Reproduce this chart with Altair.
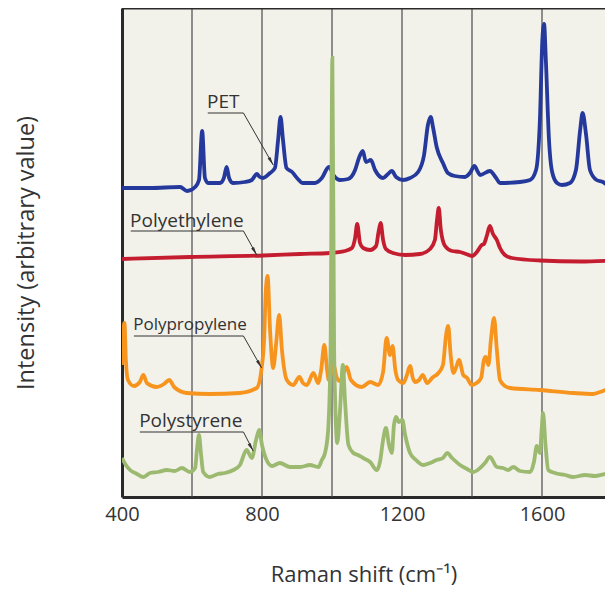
import altair as alt
import pandas as pd

# ---- spectra (wavenumber cm-1, intensity in arbitrary units) ----
pet_x = [400, 480, 566, 586, 609, 620, 629, 637, 646, 680, 691, 699, 706, 717, 751, 771, 785, 794,
         803, 823, 837, 846, 853, 860, 870, 886, 900, 917, 951, 971, 991, 1006, 1023, 1046, 1066,
         1077, 1088, 1097, 1111, 1123, 1146, 1160, 1171, 1183, 1203, 1223, 1246, 1263, 1274, 1282,
         1289, 1299, 1317, 1331, 1351, 1380, 1394, 1407, 1417, 1423, 1451, 1469, 1480, 1537, 1566,
         1583, 1594, 1601, 1606, 1611, 1620, 1629, 1643, 1657, 1680, 1697, 1709, 1716, 1726, 1737,
         1756, 1774, 1786, 1800]
pet_y = [309, 309, 310, 306, 310, 317, 366, 319, 314, 314, 319, 330, 319, 314, 315, 317, 323, 320,
         319, 324, 329, 357, 380, 357, 329, 325, 319, 314, 314, 319, 330, 321, 317, 318, 327,
         339, 346, 335, 337, 327, 319, 323, 326, 320, 317, 319, 325, 342, 372, 380,
         369, 350, 334, 324, 321, 320, 324, 331, 325, 322, 326, 319, 314, 315, 317,
         327, 377, 457, 473, 437, 357, 325, 314, 312, 314, 327, 367, 384, 362, 327,
         317, 315, 312, 309]

pe_x = [400, 594, 803, 909, 994, 1037, 1057, 1066, 1072, 1080, 1089, 1109, 1126, 1133, 1139, 1146,
        1154, 1174, 1209, 1251, 1280, 1294, 1300, 1305, 1311, 1323, 1343, 1366, 1383, 1400, 1414,
        1428, 1434, 1443, 1451, 1460, 1471, 1480, 1494, 1514, 1594, 1709, 1800]
pe_y = [238, 240, 241.5, 243, 244, 246, 249, 259, 273, 254, 249, 247, 251, 265, 274, 257,
        248, 244, 242, 243, 248, 257, 277, 289, 267, 251, 246, 245, 243, 241, 245,
        252, 253, 262, 271, 263, 257, 249, 242, 239, 236.5, 235.5, 236.5]

pp_x = [400, 404, 407, 411, 417, 434, 451, 461, 471, 499, 520, 535, 549, 585, 651, 737, 785, 799,
        806, 811, 816, 823, 832, 840, 849, 857, 871, 889, 907, 917, 928, 947, 960, 969, 978, 986,
        991, 1004, 1014, 1023, 1042, 1054, 1085, 1109, 1132, 1146, 1156, 1166, 1173, 1181, 1189,
        1204, 1214, 1223, 1231, 1237, 1249, 1259, 1272, 1286, 1304, 1317, 1326, 1332, 1339, 1347,
        1354, 1363, 1375, 1386, 1399, 1413, 1426, 1434, 1439, 1447, 1454, 1463, 1471, 1480, 1494,
        1509, 1594, 1689, 1746, 1766, 1785, 1800]
pp_y = [132, 167, 174, 137, 117, 111, 115, 122, 114, 110, 113, 117, 110, 104, 103, 104, 109, 129,
        157, 207, 221, 167, 129, 152, 182, 147, 117, 112, 120, 114, 112, 124, 114, 127, 152, 127,
        117, 132, 119, 116, 130, 117, 110, 115, 112, 125, 159, 142, 151, 127, 117,
        114, 122, 131, 119, 115, 117, 122, 114, 119, 124, 132, 162, 171, 142, 124,
        129, 137, 122, 119, 112, 114, 119, 137, 140, 132, 157, 179, 147, 117, 111,
        109, 107, 104, 103, 105, 107, 105]

ps_x = [400, 411, 423, 443, 461, 480, 503, 528, 551, 571, 594, 609, 614, 620, 626, 632, 651, 674,
        694, 718, 737, 756, 771, 783, 792, 800, 813, 829, 851, 880, 909, 937, 961, 971, 980, 989,
        996, 1001, 1006, 1009, 1015, 1023, 1031, 1037, 1047, 1061, 1074, 1089, 1109, 1128, 1137,
        1146, 1154, 1163, 1171, 1177, 1183, 1191, 1201, 1209, 1223, 1240, 1261, 1280, 1299, 1317,
        1329, 1343, 1366, 1386, 1404, 1423, 1437, 1451, 1471, 1489, 1503, 1518, 1537, 1566, 1577,
        1585, 1594, 1599, 1603, 1610, 1618, 1637, 1666, 1689, 1723, 1751, 1780, 1800]
ps_y = [39, 32, 27, 23, 20, 24, 25, 27, 26, 29, 25, 29, 47, 62, 42, 25, 20, 23,
        24, 27, 32, 47, 39, 57, 67, 52, 37, 31, 34, 30, 30, 32, 30, 37, 44, 67,
        150, 439, 150, 97, 54, 87, 132, 97, 52, 44, 42, 39, 35, 27, 35,
        57, 69, 52, 44, 72, 80, 75, 77, 62, 44, 37, 32, 34, 37, 39,
        44, 39, 32, 28, 25, 29, 34, 40, 30, 29, 27, 30, 26, 25, 35,
        51, 44, 67, 84, 52, 27, 24, 22, 20, 22, 21, 23, 24]

polymers = ["PET", "Polyethylene", "Polypropylene", "Polystyrene"]
colors = ["#24399b", "#c41d30", "#f7941e", "#9bba70"]

grid_x = [600, 800, 1000, 1200, 1400, 1600]
tick_values = [400, 800, 1200, 1600]

# ---- annotation labels with leader arrows ----
label_text = ["PET", "Polyethylene", "Polypropylene", "Polystyrene"]
label_size = [19, 19, 17, 19]
label_x = [643, 423, 432, 449]
label_y = [389, 270, 167, 70]
under_y = [384, 266, 161, 65]
under_end_x = [747, 747, 747, 747]
arrow_x = [832, 785, 799, 775]
arrow_y = [332, 242, 129, 46]

series = {"PET": (pet_x, pet_y), "Polyethylene": (pe_x, pe_y),
          "Polypropylene": (pp_x, pp_y), "Polystyrene": (ps_x, ps_y)}

lead_rows = []
for i, t in enumerate(label_text):
    lead_rows.append({"label": t, "x": label_x[i] + 2, "y": under_y[i]})
    lead_rows.append({"label": t, "x": under_end_x[i], "y": under_y[i]})
    lead_rows.append({"label": t, "x": arrow_x[i], "y": arrow_y[i]})
leaders = pd.DataFrame(lead_rows)
labels = pd.DataFrame({"label": label_text, "x": label_x, "y": label_y, "size": label_size,
                       "ax": arrow_x, "ay": arrow_y})

FONT = "Open Sans"
xscale = alt.Scale(domain=[400, 1780], nice=False, zero=False)
yscale = alt.Scale(domain=[0, 489], nice=False, zero=False)

x_enc = alt.X("wavenumber:Q", scale=xscale,
              axis=alt.Axis(values=tick_values, format="d", title="Raman shift (cm⁻¹)",
                            grid=False, ticks=False, labelFlush=False, labelPadding=7,
                            labelFontSize=20, labelFont=FONT, labelColor="#333",
                            titleFontSize=22, titleFont=FONT, titleColor="#333",
                            titleFontWeight="normal", titlePadding=40,
                            domainColor="#2a2a2a", domainWidth=3))
y_enc = alt.Y("intensity:Q", scale=yscale,
              axis=alt.Axis(labels=False, ticks=False, grid=False,
                            title="Intensity (arbitrary value)",
                            titleFontSize=23.5, titleFont=FONT, titleColor="#333",
                            titleFontWeight="normal", titlePadding=84,
                            domainColor="#2a2a2a", domainWidth=3))

grid = alt.Chart(pd.DataFrame({"g": grid_x})).mark_rule(color="#4a4a4a", strokeWidth=1.2).encode(
    x=alt.X("g:Q", scale=xscale))

top_border = alt.Chart(pd.DataFrame({"g": [0]})).mark_rule(color="#2a2a2a", strokeWidth=3).encode(
    y=alt.value(0))

# draw each polymer in its own layer so Polystyrene ends up on top
layers = []
for name in polymers:
    xs, ys = series[name]
    df = pd.DataFrame({"wavenumber": xs, "intensity": ys})
    layers.append(
        alt.Chart(df).mark_line(
            strokeWidth=3.8, interpolate="monotone", clip=True,
            color=colors[polymers.index(name)]).encode(x=x_enc, y=y_enc)
    )

lead = alt.Chart(leaders).mark_line(color="#333", strokeWidth=1).encode(
    x=alt.X("x:Q", scale=xscale), y=alt.Y("y:Q", scale=yscale), detail="label:N")

heads = alt.Chart(labels).mark_point(
    shape="M0,0 L-0.32,1.6 L0.32,1.6 Z", filled=True, color="#333", size=110, opacity=1,
    angle=150).encode(
    x=alt.X("ax:Q", scale=xscale), y=alt.Y("ay:Q", scale=yscale))

texts = alt.Chart(labels).mark_text(
    align="left", baseline="alphabetic", font=FONT, color="#333").encode(
    x=alt.X("x:Q", scale=xscale), y=alt.Y("y:Q", scale=yscale), text="label:N",
    size=alt.Size("size:Q", scale=None))

chart = alt.layer(grid, *layers, lead, heads, texts, top_border).properties(
    width=483, height=489,
    autosize=alt.AutoSizeParams(type="none"),
    padding={"left": 114, "top": 0, "right": 0, "bottom": 89},
    background="white",
).configure_view(fill="#f2f1ea", stroke="#8a8a8a", strokeWidth=1)

chart.save("out.html", embed_options={"renderer": "svg", "actions": False})
